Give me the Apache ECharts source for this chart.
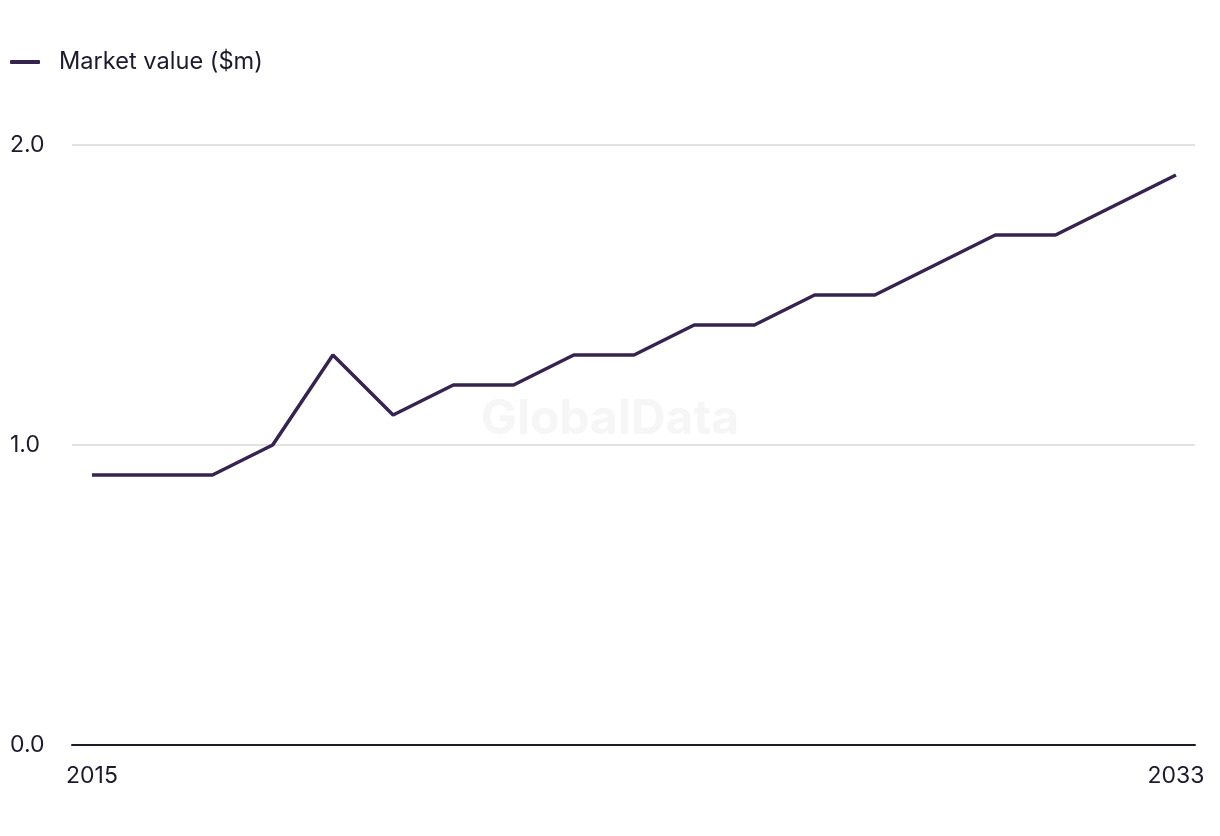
<!DOCTYPE html>
<html>
<head>
<meta charset="utf-8">
<script src="https://cdn.jsdelivr.net/npm/echarts@6/dist/echarts.min.js"></script>
<style>
html,body{margin:0;padding:0;background:#fff;}
#chart{width:1220px;height:836px;}
</style>
</head>
<body>
<div id="chart"></div>
<script>
var years = [2015,2016,2017,2018,2019,2020,2021,2022,2023,2024,2025,2026,2027,2028,2029,2030,2031,2032,2033];
var marketValue = [0.9,0.9,0.9,1.0,1.3,1.1,1.2,1.2,1.3,1.3,1.4,1.4,1.5,1.5,1.6,1.7,1.7,1.8,1.9];
var xTickLabels = [2015, 2033];
var seriesName = 'Market value ($m)';

var chart = echarts.init(document.getElementById('chart'));
var font = 'Inter, "Liberation Sans", sans-serif';
chart.setOption({
  animation: false,
  backgroundColor: '#ffffff',
  legend: {
    left: 10, top: 50, padding: 0,
    itemWidth: 30, itemHeight: 4, itemGap: 20,
    icon: 'roundRect',
    textStyle: {fontFamily: font, fontSize: 23.6, color: '#1c1b2e', padding: [0,0,0,14]},
    data: [seriesName]
  },
  graphic: [{
    type: 'text', left: 'center', top: 396, z: 0,
    style: {text: 'GlobalData', font: 'bold 48px ' + font, fill: '#f6f6f6'}
  }],
  grid: {left: 72, right: 25, top: 145, bottom: 91, containLabel: false},
  xAxis: {
    type: 'value',
    min: 2014.668, max: 2033.316,
    splitLine: {show: false},
    axisTick: {show: false},
    axisLine: {show: true, lineStyle: {color: '#1c1b2e', width: 2}},
    axisLabel: {
      customValues: xTickLabels,
      showMinLabel: true, showMaxLabel: true,
      margin: 20,
      fontFamily: font, fontSize: 23, color: '#1c1b2e',
      formatter: function(v){ return String(v); }
    }
  },
  yAxis: {
    type: 'value', min: 0, max: 2, interval: 1,
    axisLine: {show: false}, axisTick: {show: false},
    splitLine: {lineStyle: {color: '#d9d9d9', width: 1.5}},
    axisLabel: {
      align: 'left', margin: 62,
      fontFamily: font, fontSize: 23, color: '#1c1b2e',
      formatter: function(v){ return v.toFixed(1); }
    }
  },
  series: [{
    name: seriesName,
    type: 'line',
    data: years.map(function(y,i){ return [y, marketValue[i]]; }),
    showSymbol: false,
    symbol: 'none',
    lineStyle: {color: '#36234f', width: 3.5},
    itemStyle: {color: '#36234f'},
    z: 3
  }]
});
</script>
</body>
</html>
